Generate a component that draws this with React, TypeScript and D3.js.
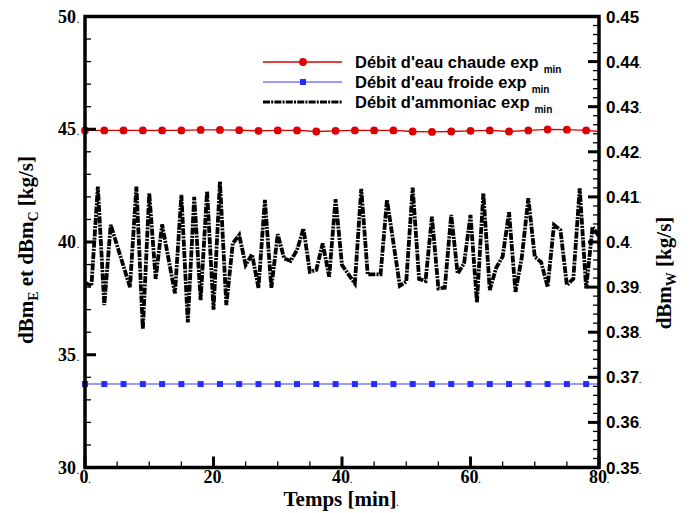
import React from 'react';
import * as d3 from 'd3';

// ---- data ----
const hotTimes = [0, 3, 6, 9, 12, 15, 18, 21, 24, 27, 30, 33, 36, 39, 42, 45, 48, 51, 54, 57, 60, 63, 66, 69, 72, 75, 78, 80];
const hotValues = [44.95, 44.95, 44.95, 44.95, 44.95, 44.95, 44.97, 44.97, 44.96, 44.93, 44.95, 44.95, 44.9, 44.93, 44.95, 44.95, 44.95, 44.9, 44.88, 44.9, 44.93, 44.95, 44.9, 44.95, 44.99, 44.98, 44.95, 44.9];
const coldTimes = [0, 3, 6, 9, 12, 15, 18, 21, 24, 27, 30, 33, 36, 39, 42, 45, 48, 51, 54, 57, 60, 63, 66, 69, 72, 75, 78, 80];
const coldValues = [0.3685, 0.3685, 0.3685, 0.3685, 0.3685, 0.3685, 0.3685, 0.3685, 0.3685, 0.3685, 0.3685, 0.3685, 0.3685, 0.3685, 0.3685, 0.3685, 0.3685, 0.3685, 0.3685, 0.3685, 0.3685, 0.3685, 0.3685, 0.3685, 0.3685, 0.3685, 0.3685, 0.3685];
const nh3Times = [0, 1, 2, 3, 4, 7, 8, 9, 10, 11, 12, 14, 15, 16, 17, 18, 19, 20, 21, 22, 23, 24, 25, 26, 27, 28, 29, 30, 31, 32, 33, 34, 35, 36, 37, 38, 39, 40, 42, 43, 44, 46, 47, 49, 50, 51, 52, 53, 54, 55, 56, 57, 58, 59, 60, 61, 62, 63, 64, 65, 66, 67, 68, 69, 70, 71, 72, 73, 74, 75, 76, 77, 78, 79, 80];
const nh3Values = [38.2, 38.05, 42.46, 37.2, 40.76, 38.0, 42.46, 36.13, 42.16, 38.36, 40.78, 37.72, 42.09, 36.43, 42.0, 37.42, 42.25, 37.0, 42.68, 37.2, 39.94, 40.31, 38.98, 39.45, 37.97, 41.87, 37.97, 40.34, 39.27, 39.16, 39.64, 40.6, 38.68, 38.76, 39.94, 38.46, 41.9, 38.98, 38.16, 42.36, 38.56, 38.56, 41.87, 38.06, 38.24, 42.41, 38.36, 38.27, 41.12, 37.94, 37.97, 41.2, 38.6, 39.05, 41.2, 37.32, 42.16, 37.87, 38.86, 39.35, 41.32, 37.79, 39.35, 41.94, 39.35, 39.1, 38.01, 40.76, 40.53, 38.09, 38.36, 42.38, 37.94, 40.68, 40.24];
const markerCount = 27;

const xTicks = [0, 20, 40, 60, 80];
const xTickLabels = ['0', '20', '40', '60', '80'];
const yLeftTicks = [30, 35, 40, 45, 50];
const yLeftTickLabels = ['30', '35', '40', '45', '50'];
const yRightTicks = [0.35, 0.36, 0.37, 0.38, 0.39, 0.4, 0.41, 0.42, 0.43, 0.44, 0.45];
const yRightTickLabels = ['0.35', '0.36', '0.37', '0.38', '0.39', '0.4', '0.41', '0.42', '0.43', '0.44', '0.45'];
const legendLabels = ["Débit d'eau chaude exp", "Débit d'eau froide exp", "Débit d'ammoniac exp"];
const legendSub = 'min';

const SERIF = '"Liberation Serif", "Times New Roman", serif';
const SANS = '"Liberation Sans", Arial, sans-serif';

export default function App() {
  const L = 85, R = 599, T = 16.5, B = 467.5;
  const x = d3.scaleLinear().domain([0, 80]).range([L, R]);
  const yL = d3.scaleLinear().domain([30, 50]).range([B, T]);
  const yR = d3.scaleLinear().domain([0.35, 0.45]).range([B, T]);

  const hotLine = d3.line<number>().x((_, i) => x(hotTimes[i])).y((d) => yL(d))(hotValues) || '';
  const coldLine = d3.line<number>().x((_, i) => x(coldTimes[i])).y((d) => yR(d))(coldValues) || '';
  const nh3Line = d3.line<number>().x((_, i) => x(nh3Times[i])).y((d) => yL(d))(nh3Values) || '';

  const red = '#dd0000';
  const blueLine = '#7878ff';
  const blueMark = '#2a2aff';

  const xMinor = d3.range(0, 80.01, 5);
  const yLMinor = d3.range(30, 50.01, 1);
  const yRMinor = d3.range(0, 51).map((i) => 0.35 + i * 0.002);

  const legendRows = [62, 82, 102];
  const lx1 = 263, lx2 = 342, lm = 303, tx = 355;

  return (
    <svg width={690} height={513} style={{ position: 'absolute', left: 0, top: 0, background: '#fff' }}>
      <rect x={0} y={0} width={690} height={513} fill="#fff" />
      {/* data */}
      <path d={coldLine} fill="none" stroke={blueLine} strokeWidth={1.6} />
      {coldTimes.slice(0, markerCount).map((t, i) => (
        <rect key={'c' + i} x={x(t) - 3} y={yR(coldValues[i]) - 3} width={6} height={6} fill={blueMark} />
      ))}
      <path d={hotLine} fill="none" stroke={red} strokeWidth={1.3} />
      {hotTimes.slice(0, markerCount).map((t, i) => (
        <circle key={'h' + i} cx={x(t)} cy={yL(hotValues[i])} r={3.9} fill={red} />
      ))}
      <path d={nh3Line} fill="none" stroke="#000" strokeWidth={3.8} strokeDasharray="7 1.2 2 1.2" strokeLinejoin="miter" />

      {/* ticks */}
      <g stroke="#000">
        {yLMinor.map((v, i) => {
          const major = Math.abs(v % 5) < 1e-6;
          return <line key={'ylm' + i} x1={L} x2={L + (major ? 11 : 6)} y1={yL(v)} y2={yL(v)} strokeWidth={major ? 3 : 1.3} />;
        })}
        {yRMinor.map((v, i) => {
          const major = i % 5 === 0;
          return <line key={'yrm' + i} x1={R} x2={R - (major ? 11 : 6)} y1={yR(v)} y2={yR(v)} strokeWidth={major ? 3 : 1.3} />;
        })}
        {xMinor.map((v, i) => {
          const major = v % 20 === 0;
          return <line key={'xm' + i} x1={x(v)} x2={x(v)} y1={B} y2={B - (major ? 11 : 6)} strokeWidth={major ? 3 : 1.3} />;
        })}
      </g>
      <rect x={L} y={T} width={R - L} height={B - T} fill="none" stroke="#000" strokeWidth={3.5} />

      {/* tick labels */}
      <g fontFamily={SERIF} fontWeight="bold" fontSize={18} fill="#000">
        {yLeftTicks.map((v, i) => (
          <text key={'yl' + i} x={76} y={yL(v) + 6} textAnchor="end">
            {yLeftTickLabels[i]}
          </text>
        ))}
        {yLeftTicks.map((v, i) => (
          <text key={'yld' + i} x={77} y={yL(v) + 6} fontSize={8}>.</text>
        ))}
        {xTicks.map((v, i) => (
          <text key={'xl' + i} x={x(v)} y={483} textAnchor="middle">
            {xTickLabels[i]}
            <tspan fontSize={8}>.</tspan>
          </text>
        ))}
      </g>
      <g fontFamily={SANS} fontWeight="bold" fontSize={17} fill="#000">
        {yRightTicks.map((v, i) => (
          <text key={'yr' + i} x={606} y={yR(v) + 6}>
            {yRightTickLabels[i]}
            {i < yRightTicks.length - 1 ? <tspan fontSize={8}>.</tspan> : null}
          </text>
        ))}
      </g>

      {/* axis titles */}
      <text x={341} y={506} textAnchor="middle" fontFamily={SERIF} fontWeight="bold" fontSize={21}>
        Temps [min]<tspan fontSize={8}>.</tspan>
      </text>
      <text transform="translate(33,250) rotate(-90)" textAnchor="middle" fontFamily={SERIF} fontWeight="bold" fontSize={21}>
        dBm<tspan fontSize={14} dy={5}>E</tspan>
        <tspan dy={-5}> et dBm</tspan>
        <tspan fontSize={14} dy={5}>C</tspan>
        <tspan dy={-5}> [kg/s]</tspan>
      </text>
      <text transform="translate(671,273) rotate(-90)" textAnchor="middle" fontFamily={SERIF} fontWeight="bold" fontSize={21}>
        dBm<tspan fontSize={14} dy={5}>W</tspan>
        <tspan dy={-5}> [kg/s]</tspan>
      </text>

      {/* legend */}
      <line x1={lx1} x2={lx2} y1={legendRows[0]} y2={legendRows[0]} stroke={red} strokeWidth={1.3} />
      <circle cx={lm} cy={legendRows[0]} r={3.9} fill={red} />
      <line x1={lx1} x2={lx2} y1={legendRows[1]} y2={legendRows[1]} stroke={blueLine} strokeWidth={1.6} />
      <rect x={lm - 3} y={legendRows[1] - 3} width={6} height={6} fill={blueMark} />
      <line x1={lx1} x2={lx2} y1={legendRows[2]} y2={legendRows[2]} stroke="#000" strokeWidth={3} strokeDasharray="7 1.2 2 1.2" />
      <g fontFamily={SANS} fontWeight="bold" fontSize={16.5} fill="#000">
        {legendLabels.map((s, i) => (
          <text key={'lg' + i} x={tx} y={legendRows[i] + 6}>
            {s}
            <tspan fontSize={10} dx={5} dy={5}>{legendSub}</tspan>
          </text>
        ))}
      </g>
    </svg>
  );
}
